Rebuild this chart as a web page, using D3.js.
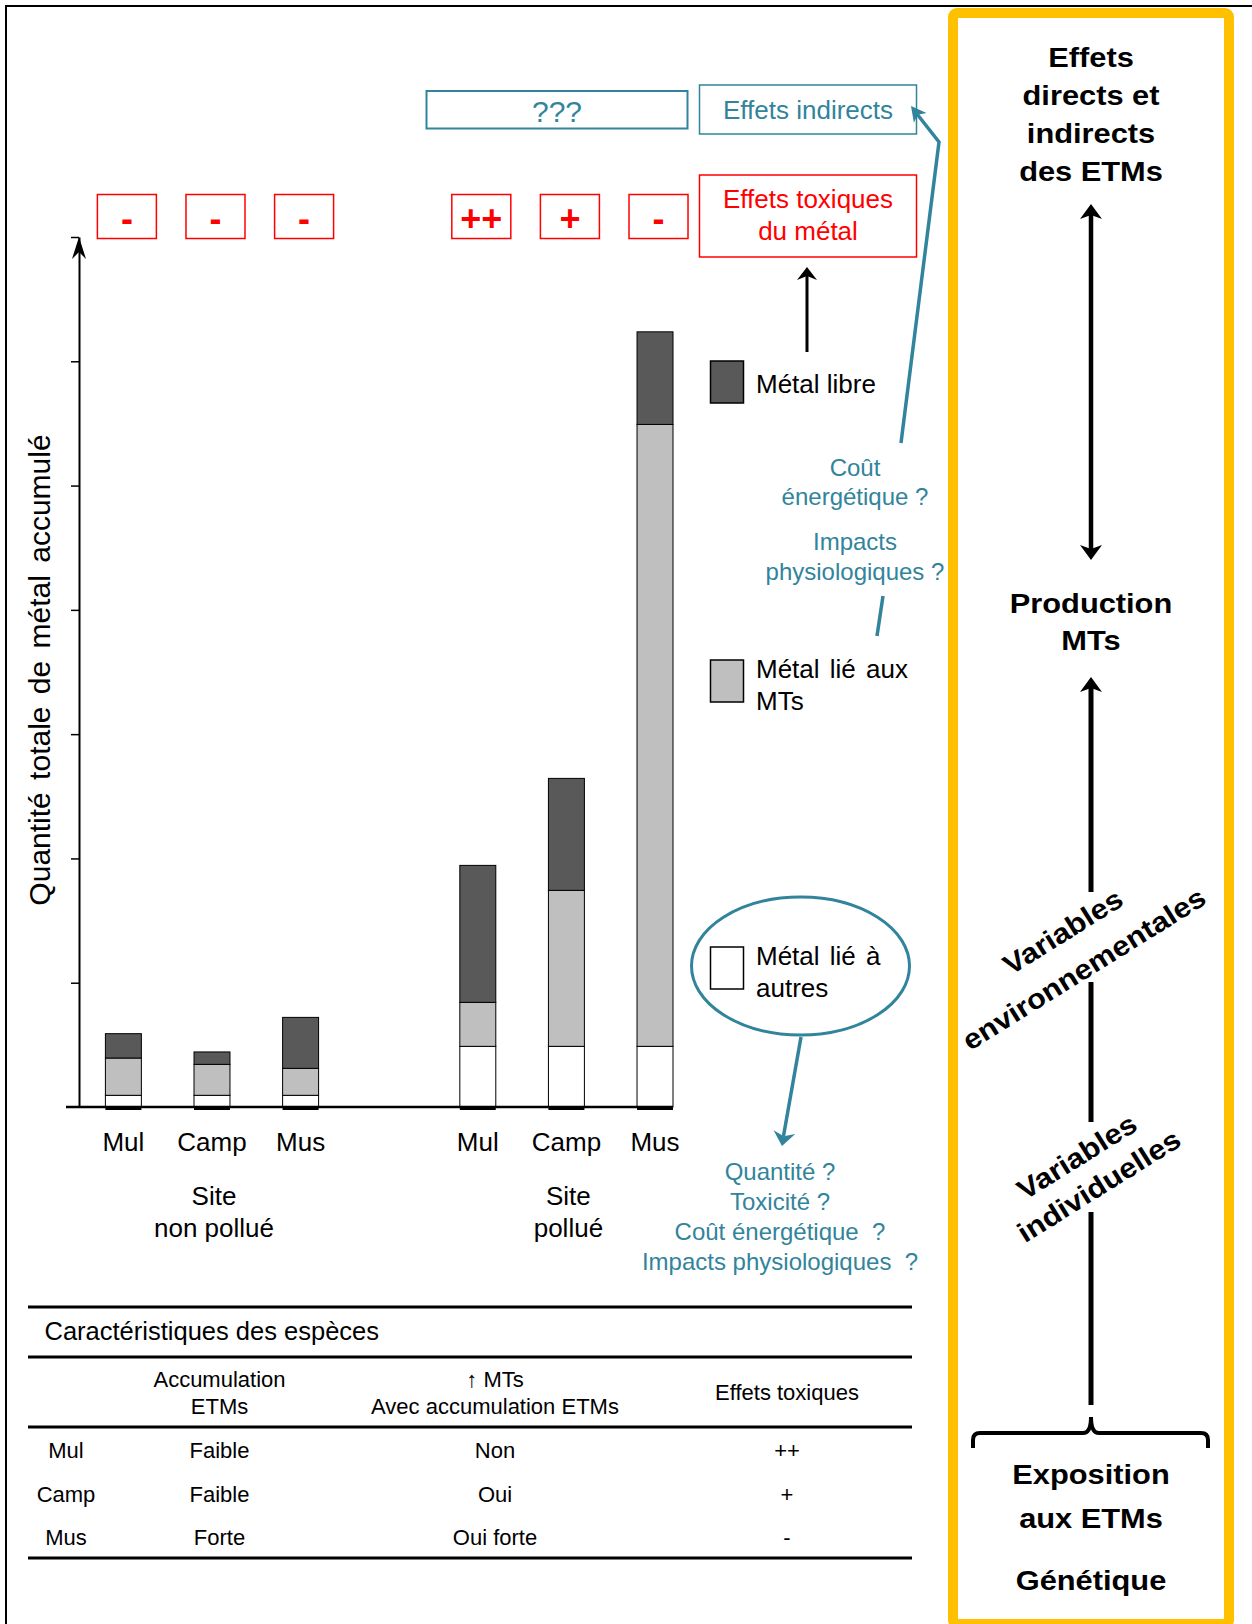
<!DOCTYPE html>
<html><head><meta charset="utf-8">
<script src="https://cdn.jsdelivr.net/npm/d3@7"></script>
<style>
html,body{margin:0;padding:0;background:#fff;}
svg{display:block;}
text{font-family:"Liberation Sans", Arial, sans-serif;}
</style></head><body>
<svg id="chart" width="1252" height="1624"></svg>
<script>
// ---------- DATA ----------
const slots = ["np-Mul","np-Camp","np-Mus","gap","p-Mul","p-Camp","p-Mus"];
const slotLabels = ["Mul","Camp","Mus","","Mul","Camp","Mus"];
const groupLabels = [["Site","non pollué"],["Site","pollué"]];
const groupSlots = [["np-Mul","np-Mus"],["p-Mul","p-Mus"]];
const metalOther = [0.094,0.094,0.094,0,0.488,0.488,0.488];
const metalMT    = [0.300,0.249,0.217,0,0.354,1.255,5.004];
const metalFree  = [0.196,0.100,0.410,0,1.102,0.901,0.745];
const toxSigns   = ["-","-","-",null,"++","+","-"];
const yTicks = [1,2,3,4,5,6,7];
const yMax = 7;
const seriesKeys = ["other","mt","free"];
const seriesColors = ["#ffffff","#bfbfbf","#595959"];
const legendLabels = [["Métal libre"],["Métal lié aux","MTs"],["Métal lié à","autres"]];
const tableTitle = "Caractéristiques des espèces";
const tableHeader = [[""],["Accumulation","ETMs"],["↑ MTs","Avec accumulation ETMs"],["Effets toxiques"]];
const tableRows = [["Mul","Faible","Non","++"],["Camp","Faible","Oui","+"],["Mus","Forte","Oui forte","-"]];
const questionsTop = [["Coût","énergétique ?"],["Impacts","physiologiques ?"]];
const questionsBottom = ["Quantité ?","Toxicité ?","Coût énergétique  ?","Impacts physiologiques  ?"];
const panelTop = ["Effets","directs et","indirects","des ETMs"];
const panelMid = ["Production","MTs"];
const panelEnv = ["Variables","environnementales"];
const panelInd = ["Variables","individuelles"];
const panelBottom = ["Exposition","aux ETMs","Génétique"];

// ---------- SETUP ----------
const TEAL = "#31849b", RED = "#ff0000";
const svg = d3.select("#chart");
svg.append("rect").attr("x",6).attr("y",6).attr("width",1300).attr("height",1700)
  .attr("fill","#fff").attr("stroke","#000").attr("stroke-width",2);

const x = d3.scaleBand().domain(slots).range([105.4,673]).paddingInner(0.594).paddingOuter(0);
const y = d3.scaleLinear().domain([0,yMax]).range([1107,237]);
const bw = x.bandwidth();

const rows = slots.map((s,i)=>({slot:s, other:metalOther[i], mt:metalMT[i], free:metalFree[i]}));
const stack = d3.stack().keys(seriesKeys)(rows.filter(r=>r.slot!=="gap"));

function head(g, tx, ty, fx, fy, color, len, hw, notch){
  const a = Math.atan2(ty-fy, tx-fx)*180/Math.PI;
  g.append("path").attr("d",`M0,0 L${-len},${-hw} L${-len+notch},0 L${-len},${hw} Z`)
   .attr("transform",`translate(${tx},${ty}) rotate(${a})`).attr("fill",color);
}

// ---------- Y AXIS ----------
const yAxis = svg.append("g").attr("transform",`translate(79,0)`)
  .call(d3.axisLeft(y).tickValues(yTicks).tickSize(8).tickSizeOuter(0).tickFormat(""));
yAxis.selectAll("path.domain").attr("stroke","#000").attr("stroke-width",2);
yAxis.selectAll(".tick line").attr("stroke","#000").attr("stroke-width",1.5);
head(svg, 79, y(yMax), 79, y(yMax)+30, "#000", 22, 7, 7);

svg.append("text").attr("transform","translate(50,670) rotate(-90)")
  .attr("text-anchor","middle").attr("font-size",30).attr("word-spacing",4)
  .attr("fill","#000").text("Quantité totale de métal accumulé");

// ---------- BARS ----------
const layers = svg.append("g").selectAll("g").data(stack).join("g")
  .attr("fill",(d,i)=>seriesColors[i]);
layers.selectAll("rect").data(d=>d).join("rect")
  .attr("x",d=>x(d.data.slot)).attr("width",bw)
  .attr("y",d=>y(d[1])).attr("height",d=>y(d[0])-y(d[1]))
  .attr("stroke","#000").attr("stroke-width",1);

// baseline
svg.append("line").attr("x1",66).attr("x2",x("p-Mus")+bw).attr("y1",y(0)).attr("y2",y(0))
  .attr("stroke","#000").attr("stroke-width",2.5);
svg.append("g").selectAll("rect").data(slots.filter(s=>s!=="gap")).join("rect")
  .attr("x",d=>x(d)).attr("width",bw).attr("y",y(0)-1).attr("height",4).attr("fill","#000");

// X axis labels
const xAxis = svg.append("g").attr("transform",`translate(0,${y(0)})`)
  .call(d3.axisBottom(x).tickSize(0).tickFormat((d,i)=>slotLabels[i]));
xAxis.select("path.domain").remove();
xAxis.selectAll("text").attr("y",44).attr("dy",0).attr("font-size",26)
  .attr("font-family",'"Liberation Sans", Arial, sans-serif').attr("fill","#000");

groupLabels.forEach((lab,gi)=>{
  const cx = (x(groupSlots[gi][0]) + x(groupSlots[gi][1]) + bw)/2 + 2;
  lab.forEach((t,li)=>{
    svg.append("text").attr("x",cx).attr("y",1205+li*32).attr("text-anchor","middle")
      .attr("font-size",26).attr("fill","#000").text(t);
  });
});

// toxicity sign boxes
slots.forEach((s,i)=>{
  if(!toxSigns[i]) return;
  const cx = x(s)+bw/2+3.5;
  svg.append("rect").attr("x",cx-29.5).attr("y",194.5).attr("width",59).attr("height",44)
    .attr("fill","#fff").attr("stroke",RED).attr("stroke-width",1.5);
  svg.append("text").attr("x",cx).attr("y",231).attr("text-anchor","middle")
    .attr("font-size",36).attr("font-weight","bold").attr("fill",RED).text(toxSigns[i]);
});

// ---------- TOP BOXES ----------
svg.append("rect").attr("x",426.5).attr("y",91).attr("width",261).attr("height",37.5)
  .attr("fill","#fff").attr("stroke",TEAL).attr("stroke-width",2);
svg.append("text").attr("x",557).attr("y",122).attr("text-anchor","middle")
  .attr("font-size",30).attr("fill",TEAL).text("???");

svg.append("rect").attr("x",699.5).attr("y",85).attr("width",217).attr("height",49)
  .attr("fill","#fff").attr("stroke",TEAL).attr("stroke-width",1.5);
svg.append("text").attr("x",808).attr("y",119).attr("text-anchor","middle")
  .attr("font-size",26).attr("fill",TEAL).text("Effets indirects");

svg.append("rect").attr("x",699.5).attr("y",175).attr("width",217).attr("height",82)
  .attr("fill","#fff").attr("stroke",RED).attr("stroke-width",1.5);
[["Effets toxiques",208],["du métal",240]].forEach(([t,yy])=>{
  svg.append("text").attr("x",808).attr("y",yy).attr("text-anchor","middle")
    .attr("font-size",26).attr("fill",RED).text(t);
});

// black arrow legend -> toxic
svg.append("line").attr("x1",807).attr("x2",807).attr("y1",352).attr("y2",276)
  .attr("stroke","#000").attr("stroke-width",3);
head(svg, 807, 267, 807, 352, "#000", 13, 10, 4);

// ---------- LEGEND ----------
const legY = [361, 660, 947];
legY.forEach((ly,i)=>{
  const si = 2 - i;
  svg.append("rect").attr("x",710.5).attr("y",ly).attr("width",33).attr("height",42)
    .attr("fill",seriesColors[si]).attr("stroke","#000").attr("stroke-width",1.5);
});
[[393],[678,710],[965,997]].forEach((ys,i)=>{
  ys.forEach((yy,li)=>{
    svg.append("text").attr("x",756).attr("y",yy).attr("font-size",26).attr("fill","#000")
      .attr("word-spacing",i===0?0:3).text(legendLabels[i][li]);
  });
});

// ellipse
svg.append("ellipse").attr("cx",800.5).attr("cy",966).attr("rx",109).attr("ry",69)
  .attr("fill","none").attr("stroke",TEAL).attr("stroke-width",3);

// teal arrows
svg.append("path").attr("d","M901,443 L939,142 L917,114").attr("fill","none")
  .attr("stroke",TEAL).attr("stroke-width",3.5);
head(svg, 911, 106, 939, 142, TEAL, 15, 8, 4);
svg.append("line").attr("x1",883).attr("y1",596).attr("x2",877).attr("y2",636)
  .attr("stroke",TEAL).attr("stroke-width",3.5);
svg.append("line").attr("x1",801).attr("y1",1037).attr("x2",783.5).attr("y2",1136)
  .attr("stroke",TEAL).attr("stroke-width",3.5);
head(svg, 782, 1146, 801, 1037, TEAL, 14, 11, 4);

// teal question texts
[[476,505],[550,580]].forEach((ys,i)=>{
  ys.forEach((yy,li)=>{
    svg.append("text").attr("x",855).attr("y",yy).attr("text-anchor","middle")
      .attr("font-size",24).attr("fill",TEAL).text(questionsTop[i][li]);
  });
});
questionsBottom.forEach((t,i)=>{
  svg.append("text").attr("x",780).attr("y",1180+i*30).attr("text-anchor","middle")
    .attr("font-size",24).attr("fill",TEAL).attr("xml:space","preserve").style("white-space","pre").text(t);
});

// ---------- TABLE ----------
[1307,1357,1427,1558].forEach(yy=>{
  svg.append("line").attr("x1",28).attr("x2",912).attr("y1",yy).attr("y2",yy)
    .attr("stroke","#000").attr("stroke-width",3);
});
svg.append("text").attr("x",44.5).attr("y",1340).attr("font-size",25.5).attr("fill","#000").text(tableTitle);
const colX = [66,219.5,495,787];
tableHeader.forEach((lines,ci)=>{
  const ys = lines.length===2 ? [1387,1414] : [1400];
  lines.forEach((t,li)=>{
    svg.append("text").attr("x",colX[ci]).attr("y",ys[li]).attr("text-anchor","middle")
      .attr("font-size",22).attr("fill","#000").text(t);
  });
});
tableRows.forEach((r,ri)=>{
  r.forEach((t,ci)=>{
    svg.append("text").attr("x",colX[ci]).attr("y",1458+ri*43.5).attr("text-anchor","middle")
      .attr("font-size",22).attr("fill","#000").text(t);
  });
});

// ---------- RIGHT PANEL ----------
svg.append("rect").attr("x",953).attr("y",13).attr("width",276).attr("height",1611).attr("rx",4)
  .attr("fill","#fff").attr("stroke","#ffc000").attr("stroke-width",10);
const PX = 1091, SX = 1.1;
function ptext(t, cx, cy, rot){
  svg.append("text").attr("transform",`translate(${cx},${cy}) rotate(${rot||0}) scale(${SX},1)`)
    .attr("text-anchor","middle").attr("font-size",28).attr("font-weight","bold")
    .attr("fill","#000").text(t);
}
panelTop.forEach((t,i)=>ptext(t,PX,67+i*38));
panelMid.forEach((t,i)=>ptext(t,PX,613+i*37));
[1484,1528,1590].forEach((yy,i)=>ptext(panelBottom[i],PX,yy));

// double arrow
svg.append("line").attr("x1",PX).attr("x2",PX).attr("y1",214).attr("y2",550)
  .attr("stroke","#000").attr("stroke-width",4.5);
head(svg, PX, 204, PX, 560, "#000", 15, 11, 4);
head(svg, PX, 560, PX, 204, "#000", 15, 11, 4);

// arrow up to Production with gaps
[[687,892],[982,1122],[1212,1405]].forEach(([a,b])=>{
  svg.append("line").attr("x1",PX).attr("x2",PX).attr("y1",a).attr("y2",b)
    .attr("stroke","#000").attr("stroke-width",5);
});
head(svg, PX, 677, PX, 900, "#000", 15, 11, 4);

// bracket
svg.append("path").attr("d",`M973,1448 L973,1440 Q973,1433 980,1433 L1083,1433 Q${PX},1433 ${PX},1417 Q${PX},1433 1099,1433 L1201,1433 Q1208,1433 1208,1440 L1208,1448`)
  .attr("fill","none").attr("stroke","#000").attr("stroke-width",4);

// rotated labels
ptext(panelEnv[0],1068,940,-32);
ptext(panelEnv[1],1089,977,-32);
ptext(panelInd[0],1082,1165,-32);
ptext(panelInd[1],1104,1194,-32);
</script>
</body></html>
